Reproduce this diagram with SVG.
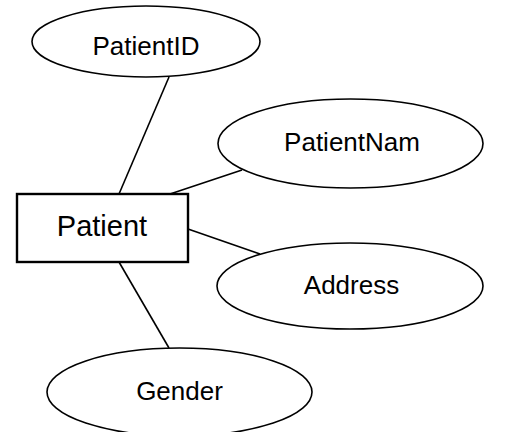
<svg xmlns="http://www.w3.org/2000/svg" width="505" height="432" viewBox="0 0 505 432">
<style>
.attr{fill:#fff;stroke:#000;stroke-width:1.6}
.ent{fill:#fff;stroke:#000;stroke-width:2.4}
.conn line{stroke:#000;stroke-width:1.6}
text{font-family:"Liberation Sans",Arial,sans-serif;font-size:26px;fill:#000;text-anchor:middle}
</style>
<rect width="505" height="432" fill="#fff"/>
<g id="connectors" class="conn">
<line x1="169" y1="77" x2="119" y2="194"/>
<line x1="170" y1="194" x2="242" y2="170"/>
<line x1="188" y1="229" x2="260" y2="254"/>
<line x1="119" y1="262" x2="169" y2="348"/>
</g>
<g id="PatientID">
<ellipse class="attr" cx="146" cy="41.5" rx="114" ry="35.5"/>
<text x="146" y="55">PatientID</text>
</g>
<g id="PatientNam">
<ellipse class="attr" cx="350.5" cy="143.5" rx="132.5" ry="44.5"/>
<text x="352" y="151">PatientNam</text>
</g>
<g id="Address">
<ellipse class="attr" cx="350" cy="286" rx="133" ry="43"/>
<text x="351.5" y="294">Address</text>
</g>
<g id="Gender">
<ellipse class="attr" cx="179.5" cy="392" rx="132.5" ry="44"/>
<text x="179.5" y="400">Gender</text>
</g>
<g id="Patient">
<rect class="ent" x="17" y="194" width="171" height="68"/>
<text x="102" y="236" style="font-size:29px">Patient</text>
</g>
</svg>
